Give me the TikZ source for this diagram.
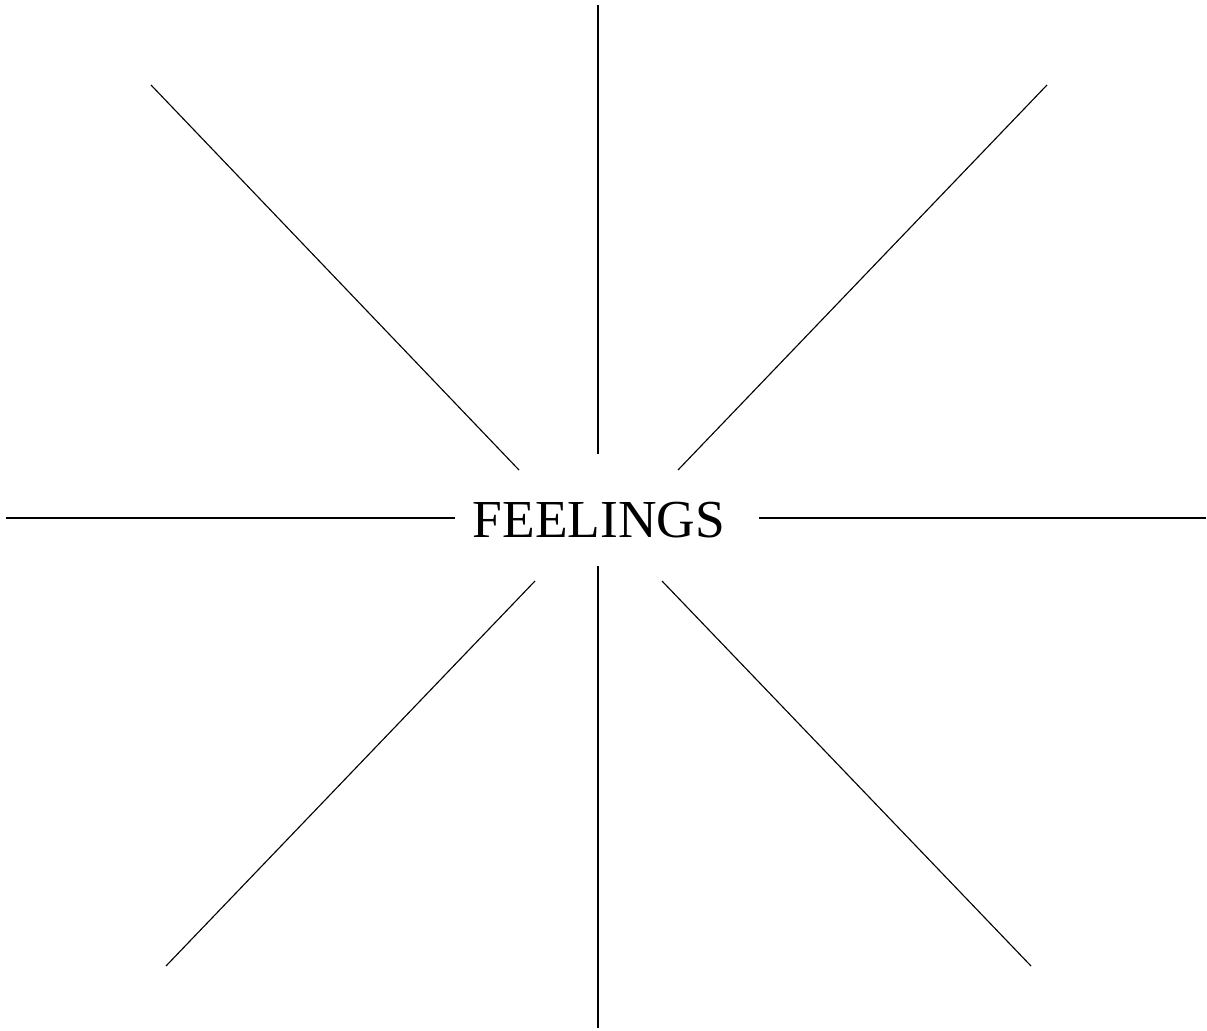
\documentclass[tikz,border=0pt]{standalone}
\usepackage{fontspec}
\setmainfont{Liberation Serif}
\usepackage{tikz}
\usetikzlibrary{positioning}

\begin{document}
\begin{tikzpicture}[
  x=0.025cm, y=-0.025cm,
  ray/.style={draw=black, line width=0.8pt},
  word/.style={font=\fontsize{38}{44}\selectfont, inner sep=0pt, anchor=base}
]
  \useasboundingbox (0,0) rectangle (1207,1030);

  % Centre word
  \node[word] (feel) at (599, 537) {FEELINGS};

  % Outer ends
  \coordinate (nOut) at (598, 5);
  \coordinate (sOut) at (598, 1028);
  \coordinate (wOut) at (6, 518);
  \coordinate (eOut) at (1206, 518);
  \coordinate (nwOut) at (151, 85);
  \coordinate (neOut) at (1047, 85);
  \coordinate (swOut) at (166, 966);
  \coordinate (seOut) at (1031, 966);

  % Inner ends
  \coordinate (nIn) at (598, 454);
  \coordinate (sIn) at (598, 566);
  \coordinate (wIn) at (455, 518);
  \coordinate (eIn) at (759, 518);
  \coordinate (nwIn) at (519, 470);
  \coordinate (neIn) at (678, 470);
  \coordinate (swIn) at (535, 581);
  \coordinate (seIn) at (662, 581);

  % Rays
  \foreach \d in {n, s, w, e, nw, ne, sw, se}
    \draw[ray] (\d Out) -- (\d In);

\end{tikzpicture}
\end{document}
